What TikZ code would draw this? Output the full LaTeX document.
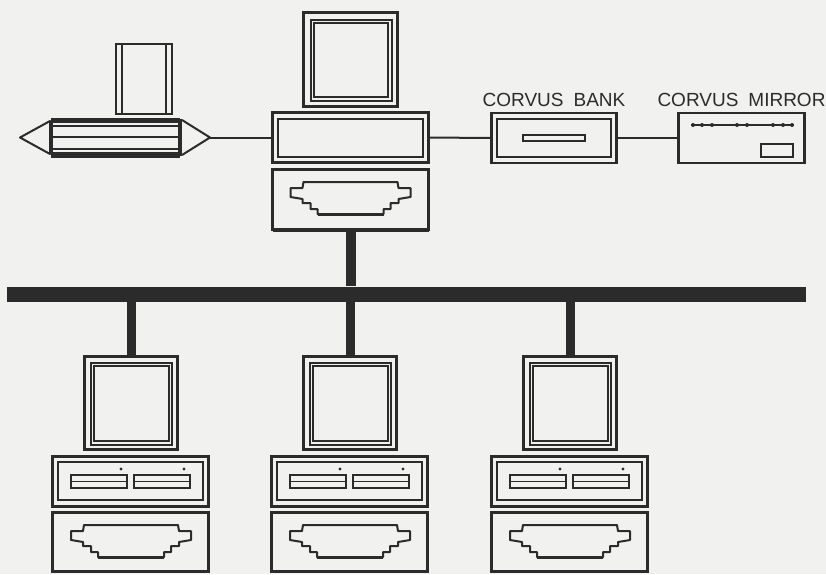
\documentclass[tikz,border=0pt]{standalone}
\usepackage{fontspec}
\setmainfont{Liberation Sans}
\usetikzlibrary{positioning}
\definecolor{ink}{HTML}{2B2B2B}
\definecolor{paper}{HTML}{F1F1EF}
\tikzset{
  box/.style={draw=ink, line width=2.6pt, inner sep=0pt, outer sep=0pt},
  inbox/.style={draw=ink, line width=2pt, inner sep=0pt, outer sep=0pt},
  wire/.style={draw=ink, line width=2pt},
  stem/.style={draw=ink, line width=9pt},
  lab/.style={text=ink, font=\fontsize{19}{19}\selectfont, inner sep=0pt},
  plug/.pic={
    \draw[ink, line width=2pt, line join=round]
      (-47,0) -- (47,0) -- (48,6) -- (60,6) -- (60,15) -- (48,17) -- (48,21)
      -- (40,21) -- (40,27) -- (33,27) -- (33,32) -- (-33,32) -- (-33,27)
      -- (-40,27) -- (-40,21) -- (-48,21) -- (-48,17) -- (-60,15) -- (-60,6)
      -- (-48,6) -- cycle;
    \draw[ink, line width=3pt] (-33,32) -- (33,32);
  }
}
\begin{document}
\begin{tikzpicture}[x=1pt, y=-1pt]
\useasboundingbox (0,0) rectangle (826,574);
\fill[paper] (0,0) rectangle (826,574);

% bus
\node[fill=ink, inner sep=0pt, minimum width=799pt, minimum height=15pt] (bus) at (406.5,294) {};

% file server
\node[box, minimum width=94pt, minimum height=94pt] (mon) at (350.5,59.5) {};
\node[inbox, minimum width=81pt, minimum height=81pt] (monin) at (351,60) {};
\node[inbox, minimum width=74pt, minimum height=74pt] (monscr) at (351,60) {};
\node[box, minimum width=156pt, minimum height=50pt] (case) at (350.5,137.5) {};
\node[inbox, minimum width=145pt, minimum height=38pt] (casein) at (350.5,137.5) {};
\node[box, minimum width=156pt, minimum height=60pt] (port) at (350.5,199.5) {};
\draw[ink, line width=4pt] (port.south west) -- (port.south east);
\pic at (350.5,182) {plug};
\draw[stem, line width=10pt] (port.south) -- (port.south |- bus.north);

% tape drive
\node[inbox, minimum width=56pt, minimum height=70pt] (sheet) at (144,79) {};
\draw[ink, line width=2pt] (122,44) -- (122,114);
\draw[ink, line width=2pt] (166,44) -- (166,114);
\node[inbox, minimum width=127pt, minimum height=38pt] (tape) at (115,137.5) {};
\fill[ink] (tape.north west) rectangle (179,122.5);
\fill[ink] (52,152) rectangle (tape.south east);
\draw[ink, line width=1.6pt] (53,126) -- (178,126);
\draw[ink, line width=1.6pt] (53,137) -- (178,137);
\draw[ink, line width=1.6pt] (53,149) -- (178,149);
\coordinate (tipl) at (20,137.5);
\coordinate (tipr) at (210,137.5);
\draw[ink, line width=2pt, line join=round] (50,121) -- (tipl) -- (50,154) -- cycle;
\draw[ink, line width=3pt] (50,121) -- (50,154);
\fill[ink] (178,119) rectangle (182,156);
\draw[ink, line width=2pt, line join=round] (182,120) -- (tipr) -- (182,155);
\draw[wire] (tipr) -- (case.west);

% bank and mirror
\node[box, minimum width=125pt, minimum height=50pt] (bank) at (554,138) {};
\node[inbox, minimum width=114pt, minimum height=38pt] (bankin) at (554,138) {};
\node[inbox, minimum width=62pt, minimum height=6pt] (slot) at (553.5,137.5) {};
\node[box, minimum width=126pt, minimum height=50pt] (mirror) at (741.5,138) {};
\draw[ink, line width=1.2pt] (691,125) -- (794,125);
\foreach \x in {693,702,712,737,747,773,783,792}
  \fill[ink] (\x,125) circle (2pt);
\node[inbox, minimum width=32pt, minimum height=13pt] (mirbox) at (777,150.5) {};
\node[lab, above=6pt of bank] (banklab) {CORVUS\hspace{10pt}BANK};
\node[lab, above=6pt of mirror] (mirlab) {CORVUS\hspace{10pt}MIRROR};
\draw[wire] (case.east) -- (bank.west);
\draw[wire] (bank.east) -- (mirror.west);

% work stations
\foreach \s/\dx in {a/0,b/219,c/439} {
\begin{scope}[xshift=\dx]
\node[box, minimum width=93pt, minimum height=93pt] (mon\s) at (131,403) {};
\node[inbox, minimum width=81pt, minimum height=82pt] (monin\s) at (131,403.5) {};
\node[inbox, minimum width=75pt, minimum height=75pt] (monscr\s) at (131.5,403.5) {};
\node[box, minimum width=156pt, minimum height=50pt] (case\s) at (130.5,481.5) {};
\node[inbox, minimum width=145pt, minimum height=38pt] (casein\s) at (130.5,481) {};
\node[inbox, minimum width=56pt, minimum height=13pt] (drvl\s) at (99,481.5) {};
\node[inbox, minimum width=56pt, minimum height=13pt] (drvr\s) at (162,481.5) {};
\draw[ink, line width=1.6pt] (drvl\s.west) -- (drvl\s.east);
\draw[ink, line width=1.6pt] (drvr\s.west) -- (drvr\s.east);
\fill[ink] (121,469) circle (1.7pt);
\fill[ink] (184,469) circle (1.7pt);
\node[box, minimum width=156pt, minimum height=59pt] (port\s) at (130.5,542) {};
\pic at (131,525) {plug};
\draw[stem] (bus.south -| mon\s.north) -- (mon\s.north);
\end{scope}
}

\end{tikzpicture}
\end{document}
